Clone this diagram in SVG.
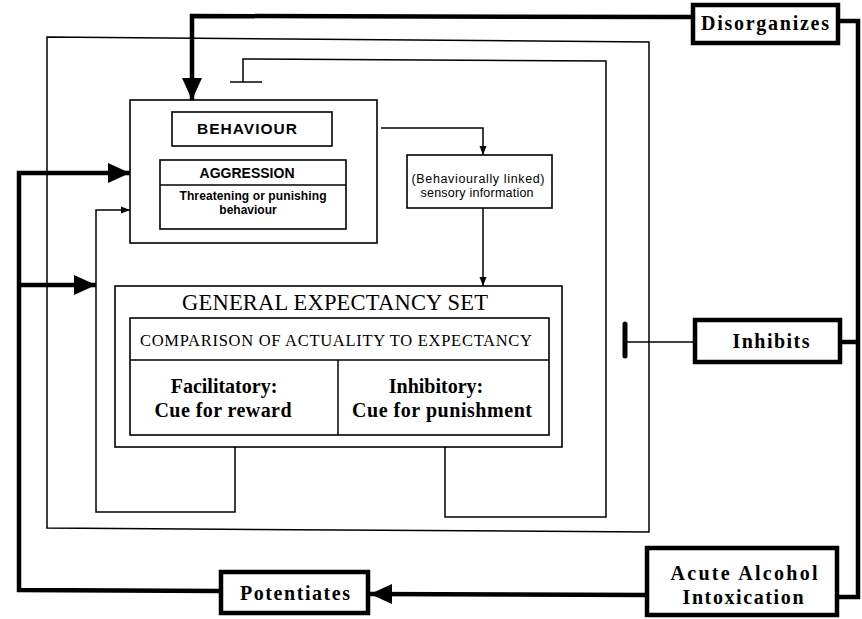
<svg xmlns="http://www.w3.org/2000/svg" width="862" height="619" viewBox="0 0 862 619">
<style>
  .thin { fill: none; stroke: #000; stroke-width: 1.5; }
  .thick { fill: none; stroke: #000; stroke-width: 4.5; }
  .box { fill: #fff; stroke: #000; stroke-width: 1.6; }
  .tbox { fill: #fff; stroke: #000; stroke-width: 4.5; }
  .serif { font-family: "Liberation Serif", "Times New Roman", serif; fill: #000; }
  .sans { font-family: "Liberation Sans", Arial, sans-serif; fill: #000; }
  .b { font-weight: bold; }
</style>
<defs>
  <marker id="bigArrow" markerUnits="userSpaceOnUse" markerWidth="24" markerHeight="22" viewBox="0 0 24 22" refX="22" refY="11" orient="auto">
    <path d="M0,1 L22,11 L0,21 Z" fill="#000"/>
  </marker>
  <marker id="smallArrow" markerUnits="userSpaceOnUse" markerWidth="10" markerHeight="8" viewBox="0 0 10 8" refX="9" refY="4" orient="auto">
    <path d="M0,0.5 L9,4 L0,7.5 Z" fill="#000"/>
  </marker>
</defs>
<rect width="862" height="619" fill="#fff"/>

<g id="connectors">
  <!-- outer thin frame -->
  <polygon class="thin" points="47,37 649,42 649,532 47,528"/>
  <!-- inhibitory loop with T-bar -->
  <polyline class="thin" points="445,435 445,517 606,517 606,61 243,59 243,82"/>
  <line class="thin" x1="230" y1="82" x2="262" y2="82" stroke-width="2"/>
  <!-- facilitatory loop -->
  <polyline class="thin" points="235,435 235,512 96,512 96,210 130,210" marker-end="url(#smallArrow)"/>
  <!-- behaviour to sensory -->
  <polyline class="thin" points="381,128 483,128 483,155" marker-end="url(#smallArrow)"/>
  <!-- sensory to expectancy -->
  <line class="thin" x1="483" y1="208" x2="483" y2="286" marker-end="url(#smallArrow)"/>
  <!-- Disorganizes to behaviour -->
  <polyline class="thick" points="693,17 192,16 192,100" marker-end="url(#bigArrow)"/>
  <!-- right spine -->
  <polyline class="thick" points="838,21 858,21 858,597 837,597"/>
  <line class="thick" x1="840" y1="342" x2="858" y2="342"/>
  <!-- Inhibits T-bar -->
  <line class="thin" x1="625" y1="342" x2="695" y2="342" stroke-width="2"/>
  <line x1="625" y1="324" x2="625" y2="356" stroke="#000" stroke-width="5" stroke-linecap="round"/>
  <!-- Acute to Potentiates -->
  <line class="thick" x1="647" y1="595" x2="370" y2="594" marker-end="url(#bigArrow)"/>
  <!-- Potentiates to left spine -->
  <polyline class="thick" points="221,591 19,590 19,173 130,173" marker-end="url(#bigArrow)"/>
  <line class="thick" x1="19" y1="285" x2="96" y2="285" marker-end="url(#bigArrow)"/>
</g>

<g id="behaviour-group">
  <rect class="box" x="130" y="100" width="247" height="143"/>
</g>
<g id="behaviour">
  <rect class="box" x="172" y="112" width="160" height="34" stroke-width="2"/>
  <text class="sans b" x="247" y="134" font-size="15.5" text-anchor="middle" textLength="100">BEHAVIOUR</text>
</g>
<g id="aggression">
  <rect class="box" x="160" y="160" width="186" height="69" stroke-width="2"/>
  <line class="thin" x1="160" y1="185" x2="346" y2="185"/>
  <text class="sans b" x="247" y="178" font-size="14" text-anchor="middle" textLength="95">AGGRESSION</text>
  <text class="sans" x="253" y="200" font-size="12" text-anchor="middle" textLength="147" font-weight="bold">Threatening or punishing</text>
  <text class="sans" x="248" y="214" font-size="12" text-anchor="middle" font-weight="bold">behaviour</text>
</g>
<g id="sensory">
  <rect class="box" x="407" y="155" width="145" height="53"/>
  <text class="sans" x="478" y="183" font-size="12.5" text-anchor="middle" textLength="133">(Behaviourally linked)</text>
  <text class="sans" x="477" y="197" font-size="12.5" text-anchor="middle" textLength="113">sensory information</text>
</g>
<g id="expectancy">
  <rect class="box" x="115" y="286" width="447" height="161"/>
  <text class="serif" x="335" y="310" font-size="22.5" text-anchor="middle" textLength="306">GENERAL EXPECTANCY SET</text>
</g>
<g id="comparison">
  <rect class="box" x="130" y="318" width="419" height="117"/>
  <line class="thin" x1="130" y1="360" x2="549" y2="360"/>
  <text class="serif" x="336" y="346" font-size="16.5" text-anchor="middle" textLength="392">COMPARISON OF ACTUALITY TO EXPECTANCY</text>
</g>
<g id="facilitatory">
  <line class="thin" x1="338" y1="360" x2="338" y2="435"/>
  <text class="serif b" x="224" y="393" font-size="20" text-anchor="middle">Facilitatory:</text>
  <text class="serif b" x="223" y="417" font-size="20" text-anchor="middle" textLength="137">Cue for reward</text>
</g>
<g id="inhibitory">
  <text class="serif b" x="436" y="393" font-size="20" text-anchor="middle">Inhibitory:</text>
  <text class="serif b" x="442" y="417" font-size="20" text-anchor="middle" textLength="180">Cue for punishment</text>
</g>
<g id="disorganizes">
  <rect class="tbox" x="693" y="5" width="145" height="38"/>
  <text class="serif b" x="765" y="30" font-size="20" text-anchor="middle" textLength="128">Disorganizes</text>
</g>
<g id="inhibits">
  <rect class="tbox" x="695" y="320" width="145" height="42"/>
  <text class="serif b" x="771" y="348" font-size="20" text-anchor="middle" textLength="77">Inhibits</text>
</g>
<g id="potentiates">
  <rect class="tbox" x="221" y="572" width="147" height="41"/>
  <text class="serif b" x="295" y="600" font-size="20" text-anchor="middle" textLength="110">Potentiates</text>
</g>
<g id="alcohol">
  <rect class="tbox" x="647" y="548" width="190" height="67"/>
  <text class="serif b" x="744" y="580" font-size="20" text-anchor="middle" textLength="147">Acute Alcohol</text>
  <text class="serif b" x="743" y="604" font-size="20" text-anchor="middle" textLength="121">Intoxication</text>
</g>
</svg>
